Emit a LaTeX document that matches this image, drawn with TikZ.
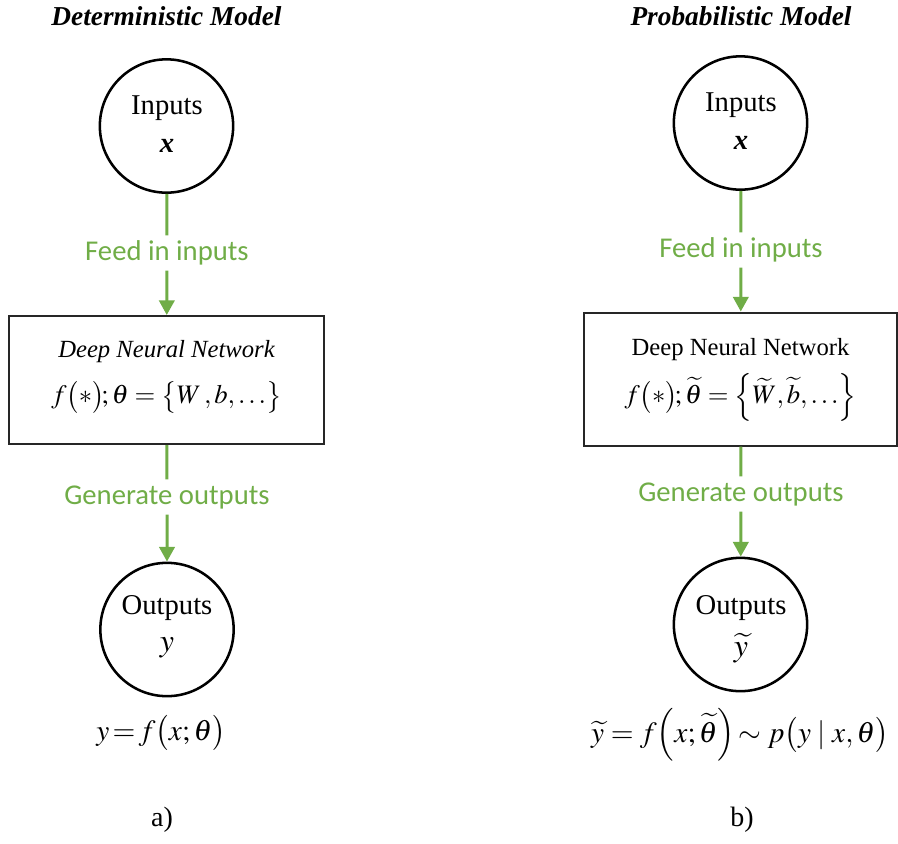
\documentclass[tikz,border=0pt]{standalone}
\usepackage{amsmath}
\usepackage{mathptmx}
\usepackage[no-math]{fontspec}
\setmainfont{Liberation Serif}
\newfontfamily\labfont{Carlito}
\usetikzlibrary{arrows.meta}
\definecolor{lgreen}{RGB}{112,173,71}
\begin{document}
\begin{tikzpicture}[x=0.75pt,y=-0.75pt,
  circ/.style={circle,draw,line width=1.9pt,minimum size=100pt,inner sep=0pt},
  boxnode/.style={rectangle,draw=black!85,line width=1.5pt,inner sep=0pt},
  lab/.style={text=lgreen,font=\labfont\fontsize{21.5}{25}\selectfont,inner sep=0pt,minimum height=26pt},
  flow/.style={draw=lgreen,line width=2.25pt,-{Triangle[width=11.5pt,length=11pt]}},
  txt/.style={inner sep=0pt,font=\fontsize{21.5}{26}\selectfont},
  ttl/.style={inner sep=0pt,font=\fontsize{20.5}{24}\selectfont\bfseries\itshape},
  boxttl/.style={inner sep=0pt,font=\fontsize{18.5}{22}\selectfont},
  formula/.style={inner sep=0pt,font=\fontsize{20}{24}\selectfont},
  bigformula/.style={inner sep=0pt,font=\fontsize{22}{26}\selectfont}]
\useasboundingbox (0,0) rectangle (898,843);

% ---------- a) deterministic ----------
\node[ttl] (t1) at (166.5,16) {Deterministic Model};
\node[circ] (in1) at (166.5,126) {};
\node[txt] (in1a) at (167,108) {Inputs};
\node[txt] (in1b) at (167,146) {\bfseries\itshape x};
\node[boxnode,minimum width=236.25pt,minimum height=96pt] (box1) at (166.5,380) {};
\node[boxttl] (box1a) at (166.5,352) {\itshape Deep Neural Network};
\node[formula] (box1b) at (166.5,397) {$f\bigl(*\bigr)\!;\theta=\bigl\{W\,,b,\ldots\bigr\}$};
\node[circ] (out1) at (167,629.5) {};
\node[txt] (out1a) at (167,608) {Outputs};
\node[txt] (out1b) at (167,648) {\fontsize{24}{28}\selectfont$y$};
\node[bigformula] (eq1) at (161,733) {$y\!=\!f\bigl(x;\theta\bigr)$};
\node[txt] (capa) at (162,820) {\fontsize{21}{25}\selectfont a)};
\node[lab] (l1) at (167,253) {Feed in inputs};
\node[lab] (l2) at (167,497) {Generate outputs};
\draw[flow] (in1) -- (l1) -- (box1);
\draw[flow] (box1) -- (l2) -- (out1);

% ---------- b) probabilistic ----------
\node[ttl] (t2) at (741,16) {Probabilistic Model};
\node[circ] (in2) at (740.5,123) {};
\node[txt] (in2a) at (741,105) {Inputs};
\node[txt] (in2b) at (741,143) {\bfseries\itshape x};
\node[boxnode,minimum width=234.75pt,minimum height=99.75pt] (box2) at (740.5,379) {};
\node[boxttl] (box2a) at (740.5,350) {Deep Neural Network};
\node[formula] (box2b) at (740.5,397) {$f\bigl(*\bigr)\!;\widetilde{\theta}=\Bigl\{\widetilde{W},\widetilde{b},\ldots\Bigr\}$};
\node[circ] (out2) at (740.5,624.5) {};
\node[txt] (out2a) at (741,608) {Outputs};
\node[txt] (out2b) at (741,648) {\fontsize{24}{28}\selectfont$\widetilde{y}$};
\node[bigformula] (eq2) at (740,735) {$\widetilde{y}=f\Bigl(x;\widetilde{\theta}\Bigr)\!\sim p\bigl(y\mid x,\theta\bigr)$};
\node[txt] (capb) at (742,820) {\fontsize{21}{25}\selectfont b)};
\node[lab] (l3) at (741,250) {Feed in inputs};
\node[lab] (l4) at (741,494) {Generate outputs};
\draw[flow] (in2) -- (l3) -- (box2);
\draw[flow] (box2) -- (l4) -- (out2);
\end{tikzpicture}
\end{document}
